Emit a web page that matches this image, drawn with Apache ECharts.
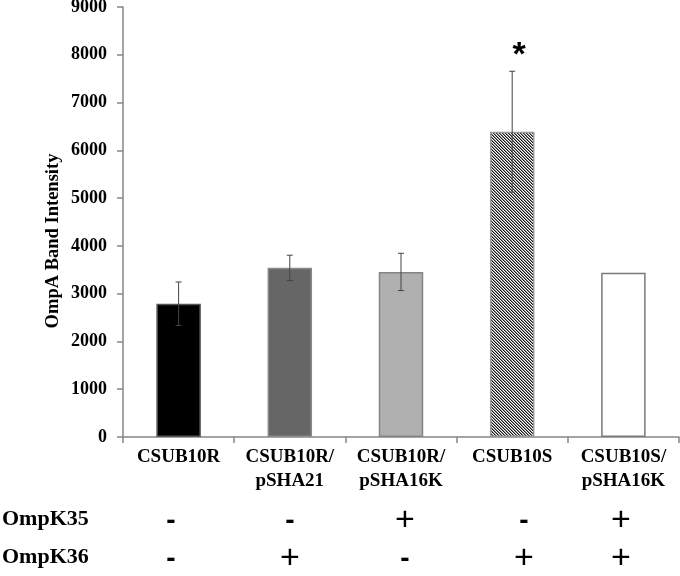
<!DOCTYPE html>
<html>
<head>
<meta charset="utf-8">
<script src="https://cdn.jsdelivr.net/npm/echarts@6/dist/echarts.min.js"></script>
<style>
html,body{margin:0;padding:0;background:#fff;}
#chart{width:680px;height:576px;}
</style>
</head>
<body>
<div id="chart"></div>
<script>
// ---- data ----
const categories = ['CSUB10R', 'CSUB10R/\npSHA21', 'CSUB10R/\npSHA16K', 'CSUB10S', 'CSUB10S/\npSHA16K'];
const values = [2790, 3540, 3455, 6390, 3440];
const errors = [455, 265, 390, 1265, 0];
const significance = ['', '', '', '*', ''];
const rowLabels = ['OmpK35', 'OmpK36'];
const ompK35 = ['-', '-', '+', '-', '+'];
const ompK36 = ['-', '+', '-', '+', '+'];
const yMin = 0, yMax = 9000, yStep = 1000;

// ---- styles / layout ----
const serif = '"Liberation Serif", "Times New Roman", serif';
const sans = '"Liberation Sans", Arial, sans-serif';
const axisColor = '#868686';

const hatch = document.createElement('canvas');
hatch.width = 6; hatch.height = 6;
(function () {
  const c = hatch.getContext('2d');
  c.fillStyle = '#fff'; c.fillRect(0, 0, 6, 6);
  for (let x = 0; x < 6; x++) for (let y = 0; y < 6; y++) {
    const m = ((x - y) % 3 + 3) % 3;
    if (m === 0) { c.fillStyle = '#1a1a1a'; c.fillRect(x, y, 1, 1); }
    else if (m === 1) { c.fillStyle = '#8a8a8a'; c.fillRect(x, y, 1, 1); }
  }
})();

const barStyles = [
  { color: '#000000', borderColor: '#555555', borderWidth: 1.5 },
  { color: '#666666', borderColor: '#8a8a8a', borderWidth: 1.5 },
  { color: '#b0b0b0', borderColor: '#858585', borderWidth: 1.5 },
  { color: { image: hatch, repeat: 'repeat' }, borderColor: '#9a9a9a', borderWidth: 1.5 },
  { color: '#ffffff', borderColor: '#7a7a7a', borderWidth: 1.5 }
];

const chart = echarts.init(document.getElementById('chart'), null, { renderer: 'canvas' });

const option = {
  animation: false,
  backgroundColor: '#ffffff',
  grid: { left: 123, right: 1, top: 7, bottom: 139, containLabel: false, outerBoundsMode: 'none' },
  xAxis: {
    type: 'category',
    data: categories,
    axisLine: { lineStyle: { color: axisColor, width: 1.5 } },
    axisTick: { show: true, length: 6, lineStyle: { color: axisColor, width: 1.5 } },
    axisLabel: {
      interval: 0, margin: 8, color: '#000', fontFamily: serif, fontWeight: 'bold',
      fontSize: 19, lineHeight: 24
    },
    splitLine: { show: false }
  },
  yAxis: {
    type: 'value',
    min: yMin, max: yMax, interval: yStep,
    axisLine: { show: true, lineStyle: { color: axisColor, width: 1.5 } },
    axisTick: { show: true, length: 6, lineStyle: { color: axisColor, width: 1.5 } },
    axisLabel: {
      margin: 16, color: '#000', fontFamily: serif, fontWeight: 'bold', fontSize: 18,
      formatter: function (v) { return String(v); }
    },
    splitLine: { show: false }
  },
  series: [
    {
      type: 'bar',
      barWidth: '40%',
      data: values.map((v, i) => ({ value: v, itemStyle: barStyles[i] })),
      z: 2
    },
    {
      type: 'custom',
      z: 5,
      data: values.map((v, i) => [i, v, errors[i]]),
      encode: { x: 0, y: 1 },
      renderItem: function (params, api) {
        const i = api.value(0), v = api.value(1), e = api.value(2);
        const children = [];
        const top = api.coord([i, v + e]);
        const bot = api.coord([i, v - e]);
        const cap = 3;
        const ls = { stroke: '#444444', lineWidth: 1 };
        if (e > 0) {
          children.push({ type: 'line', shape: { x1: top[0], y1: top[1], x2: bot[0], y2: bot[1] }, style: ls });
          children.push({ type: 'line', shape: { x1: top[0] - cap, y1: top[1], x2: top[0] + cap, y2: top[1] }, style: ls });
          children.push({ type: 'line', shape: { x1: bot[0] - cap, y1: bot[1], x2: bot[0] + cap, y2: bot[1] }, style: ls });
        }
        const mark = significance[params.dataIndex];
        if (mark) {
          children.push({
            type: 'text',
            style: {
              text: mark, x: top[0] + 7, y: top[1] - 16,
              fill: '#000', font: 'bold 34px ' + sans,
              align: 'center', verticalAlign: 'middle'
            }
          });
        }
        return { type: 'group', children: children };
      }
    }
  ]
};
chart.setOption(option);

// ---- presence table below the chart ----
const colX = [171, 290, 405, 524, 621];
const rowY = [521, 559];
const graphics = [];
graphics.push({
  type: 'text', left: 2, top: rowY[0] - 13,
  style: { text: rowLabels[0], fill: '#000', font: 'bold 22px ' + serif }
});
graphics.push({
  type: 'text', left: 2, top: rowY[1] - 13,
  style: { text: rowLabels[1], fill: '#000', font: 'bold 22px ' + serif }
});
[ompK35, ompK36].forEach(function (row, r) {
  row.forEach(function (s, c) {
    graphics.push({
      type: 'text',
      x: colX[c], y: rowY[r],
      style: {
        text: s, fill: '#000',
        font: s === '+' ? '34px ' + sans : 'bold 28px ' + sans,
        align: 'center', verticalAlign: 'middle'
      }
    });
  });
});
graphics.push({
  type: 'text', x: 53, y: 241, rotation: Math.PI / 2,
  style: {
    text: 'OmpA Band Intensity', fill: '#000', font: 'bold 18.5px ' + serif,
    align: 'center', verticalAlign: 'middle'
  }
});
chart.setOption({ graphic: graphics });
</script>
</body>
</html>
